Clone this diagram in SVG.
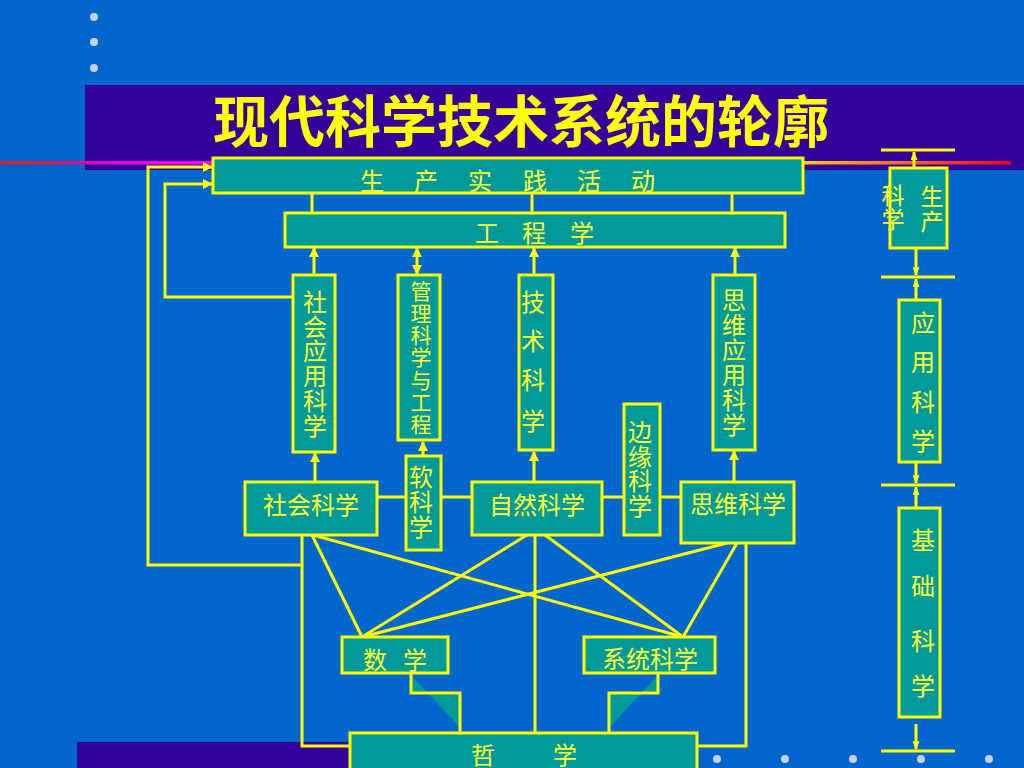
<svg xmlns="http://www.w3.org/2000/svg" width="1024" height="768" viewBox="0 0 1024 768">
<defs>
<style>
.box{fill:#009999;stroke:#ffff00;stroke-width:3}
.t{font-family:"Noto Sans CJK SC","Noto Sans",sans-serif;fill:#ffff33;font-size:24px;text-anchor:middle}
.c{fill:none;stroke:#ffff00;stroke-width:3}
.a{marker-end:url(#ah)}
.as{marker-end:url(#ahs)}
.dot{fill:#c8d0e8}
</style>
<marker id="ah" viewBox="0 0 10 10" refX="9" refY="5" markerWidth="10" markerHeight="10" markerUnits="userSpaceOnUse" orient="auto-start-reverse"><path d="M0,0 L10,5 L0,10 z" fill="#ffff00"/></marker>
<marker id="ahs" viewBox="0 0 10 8" refX="9" refY="4" markerWidth="10" markerHeight="7" markerUnits="userSpaceOnUse" orient="auto-start-reverse"><path d="M0,0 L10,4 L0,8 z" fill="#ffff00"/></marker>
<linearGradient id="gl" x1="0" y1="0" x2="213" y2="0" gradientUnits="userSpaceOnUse"><stop offset="0" stop-color="#cc2233"/><stop offset="0.2" stop-color="#cc2244"/><stop offset="0.5" stop-color="#e000e0"/><stop offset="1" stop-color="#ff00ff"/></linearGradient>
<linearGradient id="gr" x1="803" y1="0" x2="1011" y2="0" gradientUnits="userSpaceOnUse"><stop offset="0" stop-color="#ffcc00"/><stop offset="0.4" stop-color="#ff7733"/><stop offset="1" stop-color="#ee0022"/></linearGradient>
</defs>
<rect x="0" y="0" width="1024" height="768" fill="#0066cc"/>
<g id="decor">
<circle class="dot" cx="94" cy="17" r="4"/>
<circle class="dot" cx="94" cy="42" r="4"/>
<circle class="dot" cx="94" cy="68" r="4"/>
<rect x="85" y="85" width="939" height="85" fill="#330099"/>
<rect x="0" y="161" width="213" height="3.5" fill="url(#gl)"/>
<rect x="803" y="161" width="208" height="3.5" fill="url(#gr)"/>
<rect x="77" y="742" width="620" height="26" fill="#330099"/>
<circle class="dot" cx="717" cy="759" r="4"/>
<circle class="dot" cx="785" cy="759" r="4"/>
<circle class="dot" cx="853" cy="759" r="4"/>
<circle class="dot" cx="921" cy="759" r="4"/>
<circle class="dot" cx="989" cy="759" r="4"/>
</g>
<text id="title" x="521" y="142" font-family="'Noto Sans CJK SC','Noto Sans',sans-serif" font-size="56" font-weight="bold" fill="#ffff00" text-anchor="middle">现代科学技术系统的轮廓</text>

<g id="connectors">
<line class="c" x1="312" y1="193" x2="312" y2="213"/>
<line class="c" x1="532" y1="193" x2="532" y2="213"/>
<line class="c" x1="732" y1="193" x2="732" y2="213"/>
<line class="c a" x1="314" y1="275" x2="314" y2="248"/>
<line class="c a" x1="417" y1="274" x2="417" y2="248" style="marker-start:url(#ah)"/>
<line class="c a" x1="534" y1="275" x2="534" y2="248"/>
<line class="c a" x1="735" y1="275" x2="735" y2="248"/>
<line class="c a" x1="315" y1="482" x2="315" y2="453"/>
<line class="c a" x1="423" y1="456" x2="423" y2="442"/>
<line class="c a" x1="534" y1="482" x2="534" y2="452"/>
<line class="c a" x1="734" y1="482" x2="734" y2="451"/>
<line class="c" x1="377" y1="497" x2="406" y2="497"/>
<line class="c" x1="441" y1="497" x2="472" y2="497"/>
<line class="c" x1="602" y1="497" x2="624" y2="497"/>
<line class="c" x1="660" y1="497" x2="681" y2="497"/>
<polyline class="c a" points="293,297 165,297 165,184 212,184"/>
<polyline class="c a" points="302,565 148,565 148,167 212,167"/>
<polyline class="c" points="302,535 302,746 350,746"/>
<polyline class="c" points="746,543 746,746 697,746"/>
<line class="c" x1="312" y1="535" x2="362" y2="637"/>
<line class="c" x1="313" y1="535" x2="683" y2="637"/>
<line class="c" x1="527" y1="535" x2="362" y2="637"/>
<line class="c" x1="545" y1="535" x2="683" y2="637"/>
<line class="c" x1="535" y1="535" x2="535" y2="733"/>
<line class="c" x1="727" y1="543" x2="362" y2="637"/>
<line class="c" x1="737" y1="543" x2="683" y2="637"/>
<polygon points="411,675 411,693 460,693 460,728" fill="#009999"/>
<polyline class="c" points="411,673 411,693 460,693 460,733"/>
<polygon points="658,675 658,693 609,693 609,728" fill="#009999"/>
<polyline class="c" points="658,673 658,693 609,693 609,733"/>
<line class="c" x1="881" y1="150" x2="955" y2="150"/>
<line class="c" x1="881" y1="277" x2="955" y2="277"/>
<line class="c" x1="881" y1="485" x2="955" y2="485"/>
<line class="c" x1="881" y1="751" x2="955" y2="751"/>
<line class="c as" x1="914" y1="168" x2="914" y2="152"/>
<line class="c as" x1="916" y1="248" x2="916" y2="275"/>
<line class="c as" x1="916" y1="300" x2="916" y2="279"/>
<line class="c as" x1="916" y1="462" x2="916" y2="483"/>
<line class="c as" x1="916" y1="508" x2="916" y2="487"/>
<line class="c as" x1="916" y1="724" x2="916" y2="749"/>
</g>

<g id="n-prod"><rect class="box" x="213" y="158" width="590" height="35"/>
<text class="t" x="372 426 480 535 589 643" y="190">生产实践活动</text></g>
<g id="n-eng"><rect class="box" x="285" y="213" width="500" height="34"/>
<text class="t" x="487 534 582" y="242">工程学</text></g>
<g id="n-shyy"><rect class="box" x="293" y="275" width="42" height="177"/>
<text class="t" x="315 315 315 315 315 315" y="311 336 360 385 410 435">社会应用科学</text></g>
<g id="n-glkx"><rect class="box" x="398" y="275" width="42" height="165"/>
<text class="t" style="font-size:21px" x="421 421 421 421 421 421 421" y="299 321 343 365 388 410 432">管理科学与工程</text></g>
<g id="n-jskx"><rect class="box" x="519" y="275" width="34" height="175"/>
<text class="t" x="533 533 533 533" y="311 350 389 430">技术科学</text></g>
<g id="n-swyy"><rect class="box" x="713" y="275" width="42" height="175"/>
<text class="t" x="734 734 734 734 734 734" y="309 334 359 384 409 434">思维应用科学</text></g>
<g id="n-shkx"><rect class="box" x="245" y="482" width="132" height="53"/>
<text class="t" x="311" y="514">社会科学</text></g>
<g id="n-rkx"><rect class="box" x="406" y="456" width="35" height="94"/>
<text class="t" x="421 421 421" y="486 511 536">软科学</text></g>
<g id="n-zrkx"><rect class="box" x="472" y="482" width="130" height="53"/>
<text class="t" x="537" y="514">自然科学</text></g>
<g id="n-byk"><rect class="box" x="624" y="404" width="36" height="131"/>
<text class="t" x="640 640 640 640" y="441 466 490 515">边缘科学</text></g>
<g id="n-swkx"><rect class="box" x="681" y="482" width="113" height="61"/>
<text class="t" x="738" y="513">思维科学</text></g>
<g id="n-sx"><rect class="box" x="342" y="637" width="106" height="36"/>
<text class="t" x="375 415" y="669">数学</text></g>
<g id="n-xtkx"><rect class="box" x="584" y="637" width="131" height="36"/>
<text class="t" x="650" y="668">系统科学</text></g>
<g id="n-zx"><rect class="box" x="350" y="733" width="347" height="40"/>
<text class="t" x="483 565" y="764">哲学</text></g>
<g id="n-sckx"><rect class="box" x="890" y="168" width="57" height="80"/>
<text class="t" style="font-size:23px" x="932 932 893 893" y="205 230 204 228">生产科学</text></g>
<g id="n-yykx"><rect class="box" x="899" y="300" width="41" height="162"/>
<text class="t" x="923 923 923 923" y="332 371 411 450">应用科学</text></g>
<g id="n-jckx"><rect class="box" x="899" y="508" width="41" height="209"/>
<text class="t" x="923 923 923 923" y="549 595 650 695">基础科学</text></g>
</svg>
